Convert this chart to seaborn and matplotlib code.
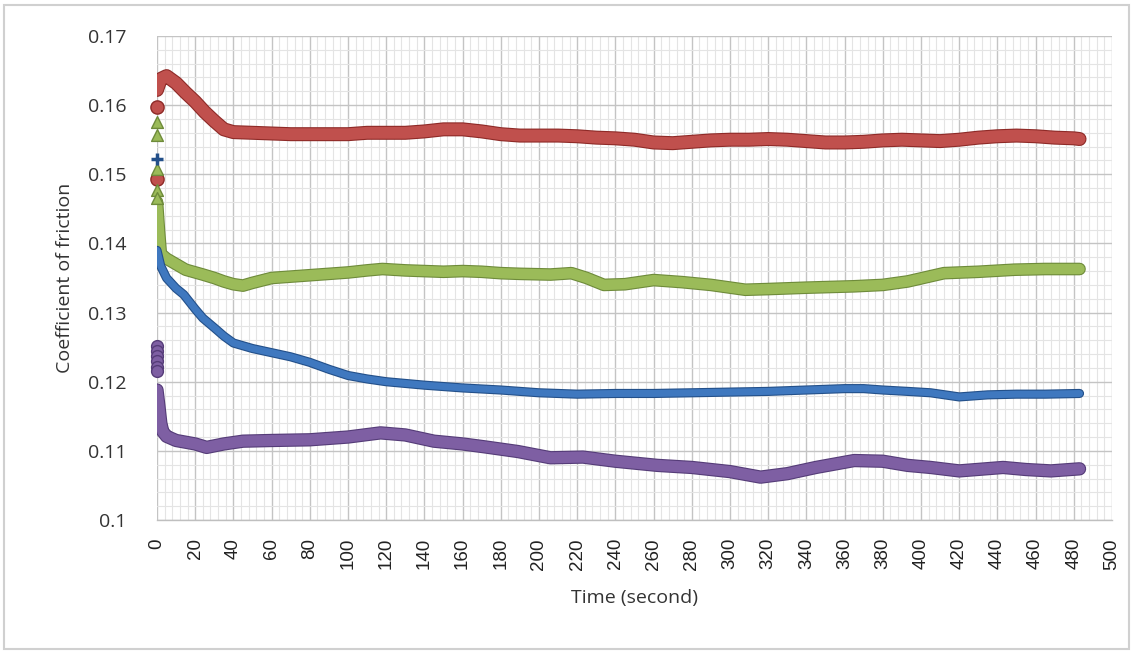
import numpy as np
import pandas as pd
import matplotlib
matplotlib.use("Agg")
import matplotlib.pyplot as plt
import matplotlib.patheffects as pe
from matplotlib.patches import Rectangle
from matplotlib.ticker import MultipleLocator
import seaborn as sns

# ---------------- data ----------------
red_t = [0, 2, 5, 10, 15, 20, 25, 30, 35, 40, 50, 60, 70, 80, 90, 100, 110, 120, 130, 140, 150, 160,
         170, 180, 190, 200, 210, 220, 230, 240, 250, 260, 270, 280, 290, 300, 310, 320, 330, 340, 350,
         360, 370, 380, 390, 400, 410, 420, 430, 440, 450, 460, 470, 480, 483]
red_v = [0.1622, 0.1638, 0.1642, 0.1632, 0.1618, 0.1605, 0.1590, 0.1577, 0.1565, 0.1561, 0.1560, 0.1559,
         0.1558, 0.1558, 0.1558, 0.1558, 0.1560, 0.1560, 0.1560, 0.1562, 0.1565, 0.1565, 0.1562, 0.1558,
         0.1556, 0.1556, 0.1556, 0.1555, 0.1553, 0.1552, 0.1550, 0.1546, 0.1545, 0.1547, 0.1549, 0.1550,
         0.1550, 0.1551, 0.1550, 0.1548, 0.1546, 0.1546, 0.1547, 0.1549, 0.1550, 0.1549, 0.1548, 0.1550,
         0.1553, 0.1555, 0.1556, 0.1555, 0.1553, 0.1552, 0.1551]
red_start = [0.1597, 0.1493]

green_t = [0, 1, 2, 5, 10, 15, 24, 30, 35, 40, 45, 50, 60, 75, 90, 100, 110, 118, 130, 140, 150, 160,
           170, 180, 190, 206, 217, 225, 234, 245, 260, 275, 290, 308, 320, 340, 365, 380, 393, 412, 430,
           449, 465, 483]
green_v = [0.1460, 0.1420, 0.1385, 0.1378, 0.1370, 0.1362, 0.1355, 0.1350, 0.1345, 0.1341, 0.1339, 0.1343,
           0.1350, 0.1353, 0.1356, 0.1358, 0.1361, 0.1363, 0.1361, 0.1360, 0.1359, 0.1360, 0.1359, 0.1357,
           0.1356, 0.1355, 0.1357, 0.1350, 0.1340, 0.1341, 0.1347, 0.1344, 0.1340, 0.1333, 0.1334, 0.1336,
           0.1338, 0.1340, 0.1345, 0.1357, 0.1359, 0.1362, 0.1363, 0.1363]
green_start = [0.1575, 0.1557, 0.1507, 0.1477, 0.1466]

blue_t = [0, 2, 5, 10, 14, 20, 24, 30, 35, 40, 50, 60, 70, 80, 90, 100, 110, 120, 140, 160, 180, 200,
          220, 240, 260, 280, 300, 320, 340, 360, 370, 380, 393, 405, 420, 435, 450, 465, 483]
blue_v = [0.1390, 0.1367, 0.1350, 0.1335, 0.1326, 0.1305, 0.1292, 0.1278, 0.1266, 0.1256, 0.1248, 0.1242,
          0.1236, 0.1228, 0.1218, 0.1209, 0.1204, 0.1200, 0.1195, 0.1191, 0.1188, 0.1184, 0.1182, 0.1183,
          0.1183, 0.1184, 0.1185, 0.1186, 0.1188, 0.1190, 0.1190, 0.1188, 0.1186, 0.1184, 0.1178, 0.1181,
          0.1182, 0.1182, 0.1183]
blue_start = [0.1522]

purple_t = [0, 1, 2, 3, 5, 10, 20, 26, 35, 45, 60, 80, 100, 117, 130, 145, 160, 171, 189, 206, 223, 240,
            262, 280, 300, 316, 330, 345, 365, 380, 393, 405, 420, 443, 455, 468, 483]
purple_v = [0.1188, 0.1165, 0.1140, 0.1128, 0.1121, 0.1115, 0.1110, 0.1105, 0.1110, 0.1114, 0.1115, 0.1116,
            0.1120, 0.1126, 0.1123, 0.1114, 0.1110, 0.1106, 0.1099, 0.1090, 0.1091, 0.1085, 0.1079, 0.1076,
            0.1070, 0.1062, 0.1067, 0.1076, 0.1086, 0.1085, 0.1079, 0.1076, 0.1071, 0.1076, 0.1073, 0.1071,
            0.1074]
purple_start = [0.1251, 0.1244, 0.1237, 0.1230, 0.1222, 0.1215]

x_ticks = list(range(0, 501, 20))
y_ticks = [0.10, 0.11, 0.12, 0.13, 0.14, 0.15, 0.16, 0.17]
y_tick_labels = ["0.1", "0.11", "0.12", "0.13", "0.14", "0.15", "0.16", "0.17"]

# ---------------- style ----------------
sns.set_style("white")
plt.rcParams["font.family"] = ["Open Sans", "DejaVu Sans"]

fig = plt.figure(figsize=(11.34, 6.54), dpi=100)
ax = fig.add_axes([157 / 1134, 1 - 520 / 654, (1112 - 157) / 1134, (520 - 36) / 654])

series = [
    (red_t, red_v, "#C0504D", "#8E2A27", 8.5, red_start, "o", 9.5),
    (green_t, green_v, "#9BBB59", "#6E8B3A", 7.5, green_start, "^", 8.5),
    (blue_t, blue_v, "#3F78BF", "#23508A", 5.0, blue_start, "+", 8.0),
    (purple_t, purple_v, "#7E5FA3", "#553C78", 8.0, purple_start, "o", 8.5),
]

for t, v, fc, ec, lw, starts, mk, ms in series:
    df = pd.DataFrame({"t": t, "v": v})
    sns.lineplot(data=df, x="t", y="v", ax=ax, color=fc, linewidth=lw, zorder=3,
                 solid_capstyle="round", solid_joinstyle="round",
                 path_effects=[pe.Stroke(linewidth=lw + 1.6, foreground=ec), pe.Normal()])
    sdf = pd.DataFrame({"t": [0] * len(starts), "v": starts})
    if mk == "+":
        ax.plot(sdf["t"], sdf["v"], linestyle="none", marker="+", markersize=ms,
                markeredgewidth=2.5, color="#23508A", zorder=4, clip_on=False)
    else:
        sns.scatterplot(data=sdf, x="t", y="v", ax=ax, color=fc, marker=mk, s=ms ** 2,
                        edgecolor=ec, linewidth=1.0, zorder=4)
        for coll in ax.collections:
            coll.set_clip_on(False)

ax.set_xlim(0, 500)
ax.set_ylim(0.10, 0.17)
ax.set_xticks(x_ticks)
ax.set_xticklabels([str(x) for x in x_ticks], rotation=90, fontsize=13.5,
                   family=["Liberation Sans", "DejaVu Sans"])
ax.set_yticks(y_ticks)
ax.set_yticklabels(y_tick_labels, fontsize=14, color="#333333")
ax.xaxis.set_minor_locator(MultipleLocator(4))
ax.yaxis.set_minor_locator(MultipleLocator(0.002))
ax.grid(which="major", color="#C4C4C4", linewidth=1.0, zorder=1)
ax.grid(which="minor", color="#E4E4E4", linewidth=0.8, zorder=0)
ax.set_axisbelow(True)
for s in ["top", "right", "left"]:
    ax.spines[s].set_visible(False)
ax.spines["bottom"].set_color("#BFBFBF")
ax.spines["bottom"].set_linewidth(1.0)
ax.tick_params(axis="x", which="major", length=5, color="#BFBFBF", pad=8, labelcolor="#222222")
ax.tick_params(axis="x", which="minor", length=0)
ax.tick_params(axis="y", which="both", length=0, pad=22)

ax.set_xlabel("Time (second)", fontsize=14, color="#333333", labelpad=14)
ax.set_ylabel("Coefficient of friction", fontsize=14, color="#333333", labelpad=10)

fig.patches.append(Rectangle((4 / 1134, 5 / 654), 1125 / 1134, 644 / 654, transform=fig.transFigure,
                             fill=False, edgecolor="#D0D0D0", linewidth=1.5))

fig.savefig("out.png", dpi=100)
